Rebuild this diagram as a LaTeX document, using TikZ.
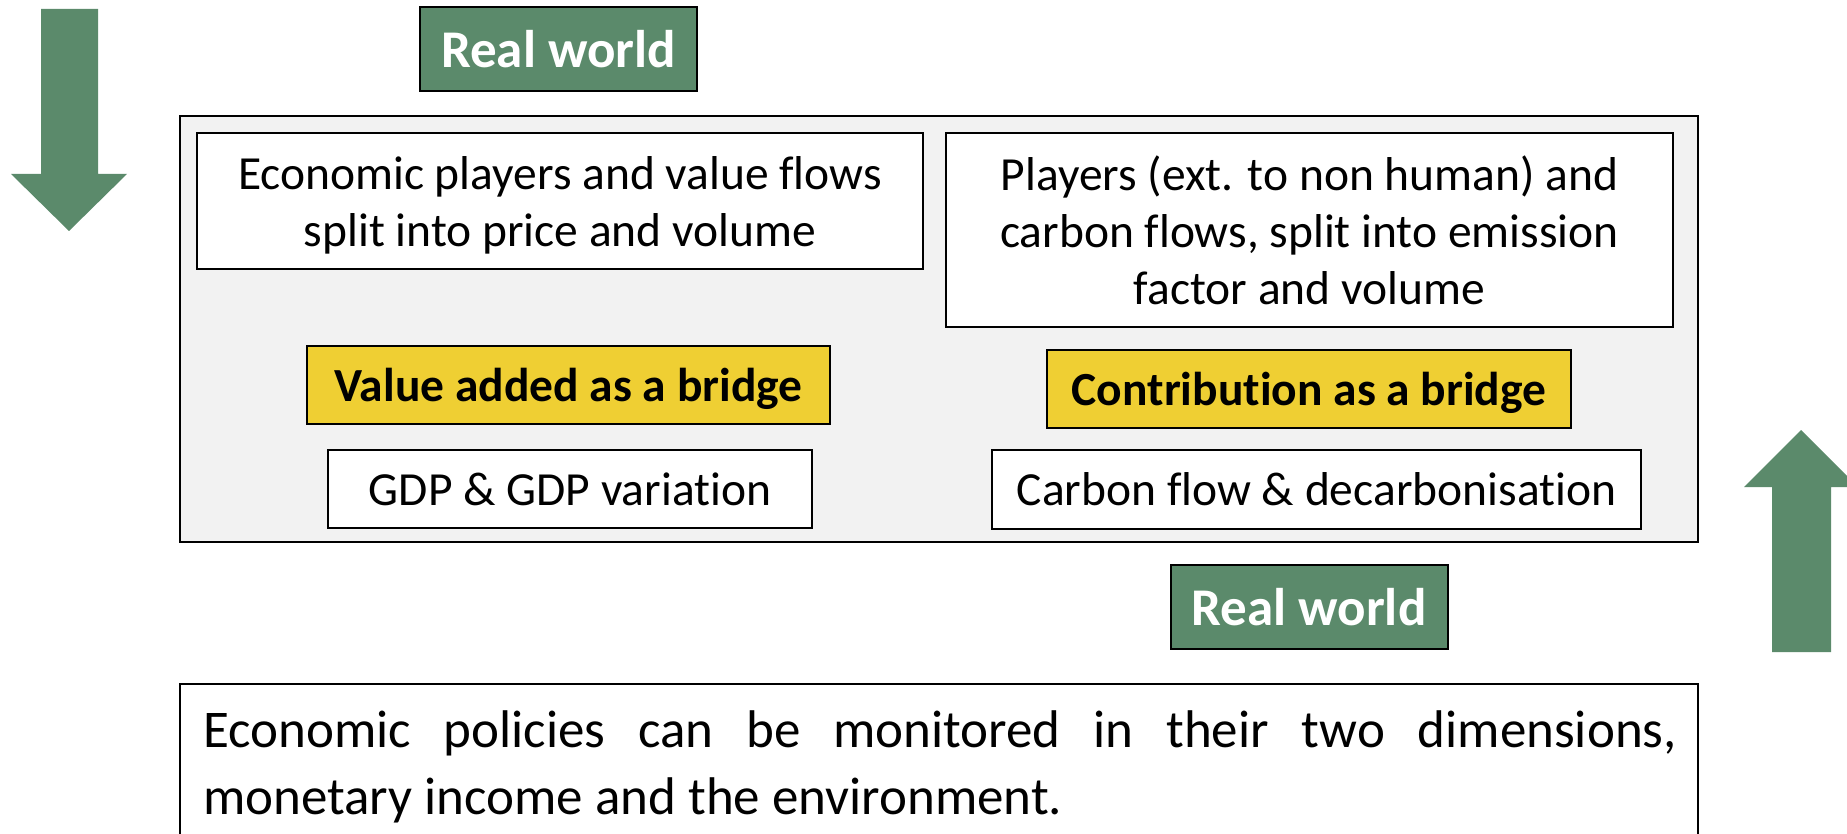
\documentclass[tikz,border=0pt]{standalone}
\usepackage{fontspec}
\setmainfont{Carlito}[Ligatures=NoCommon]
\definecolor{rwgreen}{RGB}{91,138,107}
\definecolor{bridgeyellow}{RGB}{239,207,51}
\definecolor{panelgray}{RGB}{242,242,242}
\begin{document}
\begin{tikzpicture}[x=1pt,y=-1pt,
  boxline/.style={draw=black,line width=2pt,inner sep=0pt},
  realworld/.style={boxline,fill=rwgreen,text=white,
    font=\fontsize{53}{64}\selectfont\bfseries,
    minimum width=277pt,minimum height=84pt},
  bridgebox/.style={boxline,fill=bridgeyellow,
    font=\fontsize{47.5}{57}\selectfont\bfseries,text depth=0pt,
    minimum width=524pt,minimum height=78pt},
  textbox/.style={boxline,fill=white,align=center,
    font=\fontsize{47.5}{57}\selectfont},
  bigarrow/.style={fill=rwgreen}]
\useasboundingbox (0,0) rectangle (1847,834);
\clip (0,0) rectangle (1847,834);

% direction arrows
\fill[bigarrow] (41,9) -- (98,9) -- (98,174) -- (127,174) -- (69,231)
  -- (11,174) -- (41,174) -- cycle;
\fill[bigarrow] (1772,652) -- (1831,652) -- (1831,487) -- (1858,487)
  -- (1801,430) -- (1744,487) -- (1772,487) -- cycle;

% grey panel
\node[boxline,fill=panelgray,anchor=north west,
  minimum width=1518pt,minimum height=426pt] (panel) at (179,115) {};

% top and bottom labels
\node[realworld] (rwtop) at (558.5,49) {Real world};
\node[realworld] (rwbottom) at (1309,607) {Real world};

% left column
\node[textbox,minimum width=726pt,minimum height=136pt] (econ) at (560,201)
  {\rule{0pt}{42pt}Economic players and value flows\\split into price and volume};
\node[bridgebox,minimum width=523pt] (vabridge) at (568.5,385)
  {Value added as a bridge};
\node[textbox,minimum width=484pt,minimum height=78pt] (gdp) at (570,489)
  {GDP \& GDP variation};

% right column
\node[textbox,minimum width=727pt,minimum height=194pt] (players) at (1309.5,230)
  {Players (ext. to non human) and\\carbon flows, split into emission\\factor and volume};
\node[bridgebox] (cbridge) at (1309,389)
  {Contribution as a bridge};
\node[textbox,minimum width=649pt,minimum height=79pt] (carbon) at (1316.5,489.5)
  {Carbon flow \& decarbonisation};

% conclusion box
\node[boxline,fill=white,anchor=north west,
  minimum width=1518pt,minimum height=250pt] (policybox) at (179,683) {};
\node[anchor=north west,inner sep=0pt,text width=1474pt,align=justify,
  font=\fontsize{53}{67}\selectfont] (policytext) at (203,710)
  {Economic policies can be monitored in their two dimensions,\linebreak
   monetary income and the environment.};
\end{tikzpicture}
\end{document}
